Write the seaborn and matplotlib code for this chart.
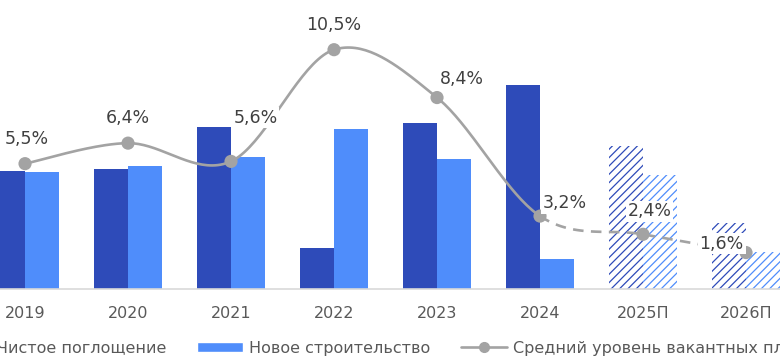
import numpy as np
import pandas as pd
import seaborn as sns
import matplotlib.pyplot as plt
from matplotlib.patches import Patch
from matplotlib.lines import Line2D

# Данные (тыс. кв. м и %)
years = ['2019', '2020', '2021', '2022', '2023', '2024', '2025П', '2026П']
absorption = [1180, 1200, 1620, 410, 1660, 2040, 1430, 660]
construction = [1170, 1230, 1320, 1600, 1300, 300, 1140, 370]
vacancy = [5.5, 6.4, 5.6, 10.5, 8.4, 3.2, 2.4, 1.6]
n_fact = 6  # 2019-2024 факт, дальше прогноз
series_names = ['Чистое поглощение', 'Новое строительство']
line_name = 'Средний уровень вакантных площадей'

dark = '#2E4BB9'
light = '#4F8DFB'
grey = '#A3A3A3'

df = pd.DataFrame({
    'year': years * 2,
    'value': absorption + construction,
    'series': [series_names[0]] * len(years) + [series_names[1]] * len(years),
})


def smooth(xs, ys, n=40):
    """Сглаженная линия как в Excel (Catmull-Rom через безье)."""
    p = np.column_stack([xs, ys]).astype(float)
    p = np.vstack([p[0], p, p[-1]])
    t = np.linspace(0, 1, n)[:, None]
    segs = []
    for i in range(1, len(p) - 2):
        p0, p1, p2, p3 = p[i - 1], p[i], p[i + 1], p[i + 2]
        c1 = p1 + (p2 - p0) / 6
        c2 = p2 - (p3 - p1) / 6
        segs.append((1 - t) ** 3 * p1 + 3 * (1 - t) ** 2 * t * c1
                    + 3 * (1 - t) * t ** 2 * c2 + t ** 3 * p2)
    return segs


sns.set_style('white')
plt.rcParams['font.family'] = ['DejaVu Sans']
plt.rcParams['hatch.linewidth'] = 0.9

fig = plt.figure(figsize=(7.8, 3.61), dpi=100)
ax = fig.add_axes([0, 0.1994, 1, 0.8006])

sns.barplot(data=df, x='year', y='value', hue='series',
            palette=[dark, light], width=0.66, saturation=1,
            linewidth=0, legend=False, ax=ax)

# прогнозные столбцы - штриховка
for cont, col in zip(ax.containers, [dark, light]):
    for j, bar in enumerate(cont):
        if j >= n_fact:
            bar.set_facecolor('white')
            bar.set_edgecolor(col)
            bar.set_hatch('////')
            bar.set_linewidth(0)

ax.set_xlim(-0.243, 7.33)
ax.set_ylim(0, 2890)
ax.set_xlabel('')
ax.set_ylabel('')
ax.set_yticks([])
ax.tick_params(axis='x', length=0, pad=12, labelsize=11.5, labelcolor='#595959')
for s in ['top', 'left', 'right']:
    ax.spines[s].set_visible(False)
ax.spines['bottom'].set_color('#D9D9D9')
ax.spines['bottom'].set_linewidth(1.2)

# линия вакантности
ax2 = ax.twinx()
ax2.set_ylim(0, 12.68)
ax2.set_yticks([])
for s in ax2.spines.values():
    s.set_visible(False)

x = np.arange(len(years))
segs = smooth(x, vacancy)
solid = np.vstack(segs[:n_fact - 1])
dashed = np.vstack(segs[n_fact - 1:])
ax2.plot(solid[:, 0], solid[:, 1], color=grey, lw=1.9, zorder=2)
ax2.plot(dashed[:, 0], dashed[:, 1], color=grey, lw=1.9,
         linestyle=(0, (4, 2.8)), zorder=2)
sns.scatterplot(x=x, y=vacancy, color=grey, s=90, edgecolor='none',
                zorder=3, ax=ax2)

label_offsets = [(1.5, 18), (0, 18), (17.5, 31.5), (0, 18),
                 (18, 13), (18, 9.5), (4.5, 16.5), (-17.5, 6.5)]
for i, (v, off) in enumerate(zip(vacancy, label_offsets)):
    ax2.annotate(f'{v:.1f}%'.replace('.', ','), (i, v), xytext=off,
                 textcoords='offset points', ha='center', va='center',
                 fontsize=12.5, color='#404040', zorder=5,
                 bbox=dict(boxstyle='square,pad=0.1', fc='white', ec='none'))

handles = [Patch(facecolor=dark), Patch(facecolor=light),
           Line2D([], [], color=grey, lw=1.9, marker='o', ms=7)]
fig.legend(handles, series_names + [line_name], loc='center left',
           bbox_to_anchor=(-55 / 780, 13 / 361), ncol=3, frameon=False,
           borderpad=0, borderaxespad=0, handlelength=2.875,
           handleheight=0.65, handletextpad=0.375, columnspacing=1.94,
           fontsize=11.5, labelcolor='#595959')

fig.savefig('out.png', dpi=100)
